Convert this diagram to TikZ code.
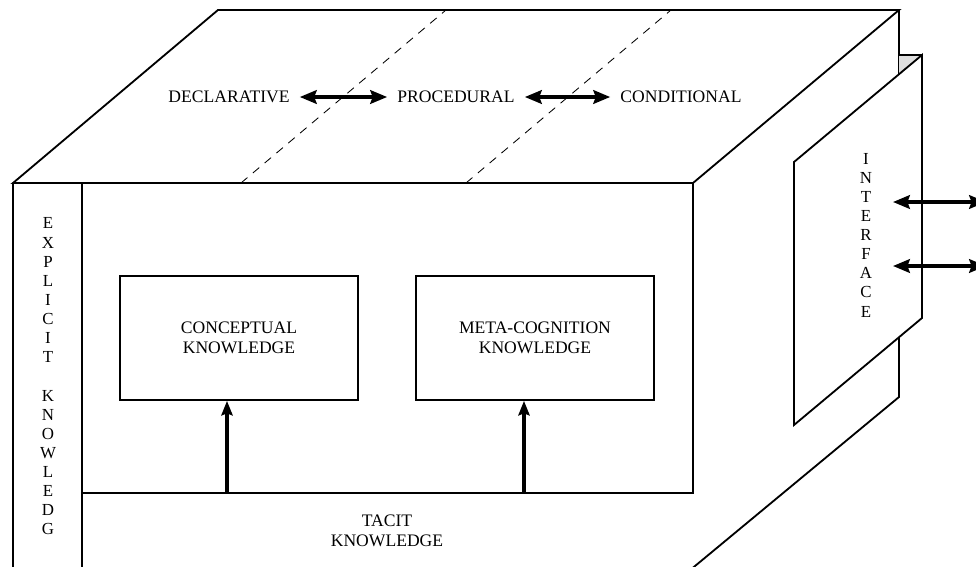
\documentclass[tikz,border=0pt]{standalone}
\usepackage{fontspec}
\setmainfont{Liberation Serif}
\usepackage{tikz}
\usetikzlibrary{arrows.meta,positioning}
\tikzset{
    edge/.style={line width=1.3pt, line join=miter},
    divider/.style={line width=0.6pt, dash pattern=on 6pt off 5pt},
    kbox/.style={
        rectangle,
        draw,
        line width=1.3pt,
        minimum width=5.95cm,
        minimum height=3.1cm,
        align=center,
        font=\fontsize{12.5}{14.2}\selectfont
    },
    label/.style={inner xsep=0.25cm, inner ysep=0pt, font=\fontsize{12.5}{14}\selectfont},
    vletters/.style={align=center, inner sep=0pt, font=\fontsize{12}{13.6}\selectfont},
    biarrow/.style={{Stealth[length=4.2mm,width=3.4mm,inset=0.6mm]}-{Stealth[length=4.2mm,width=3.4mm,inset=0.6mm]}, line width=2.4pt},
    uparrow/.style={-{Stealth[length=3.6mm,width=2.8mm,inset=0.5mm]}, line width=2.2pt}
}

\begin{document}
\begin{tikzpicture}[x=0.025cm, y=-0.025cm]
    \useasboundingbox (0,0) rectangle (976,567);

    % Cubo: faccia superiore e divisioni
    \draw[edge] (13,183) -- (218,10) -- (899,10) -- (693,183) -- cycle;
    \draw[divider] (241,183) -- (446,10);
    \draw[divider] (466,183) -- (671,10);

    % Faccia frontale
    \draw[edge] (13,600) -- (13,183);
    \draw[edge] (82,600) -- (82,183);
    \draw[edge] (82,493) -- (693,493) -- (693,183);

    % Faccia laterale
    \draw[edge] (899,10) -- (899,397) -- (654,600);

    % Pannello interfaccia
    \fill[gray!25] (899,55) -- (922,55) -- (899,74) -- cycle;
    \draw[edge, fill=white] (794,162) -- (922,55) -- (922,318) -- (794,425) -- cycle;
    \draw[edge] (899,55) -- (922,55);

    % Testi della faccia superiore
    \node[label] (decl) at (229,97) {DECLARATIVE};
    \node[label] (proc) at (456,97) {PROCEDURAL};
    \node[label] (cond) at (681,97) {CONDITIONAL};
    \draw[biarrow] (decl) -- (proc);
    \draw[biarrow] (proc) -- (cond);

    % Blocchi di conoscenza
    \node[kbox] (concept) at (239,338) {CONCEPTUAL\\KNOWLEDGE};
    \node[kbox] (meta) at (535,338) {META-COGNITION\\KNOWLEDGE};
    \coordinate (tc) at (227,493);
    \coordinate (tm) at (524,493);
    \draw[uparrow] (tc) -- (tc |- concept.south);
    \draw[uparrow] (tm) -- (tm |- meta.south);
    \node[align=center, font=\fontsize{12.5}{14.5}\selectfont] (tacit) at (387,531) {TACIT\\KNOWLEDGE};

    % Scritte verticali
    \node[vletters] (explicit) at (48,376.5) {E\\X\\P\\L\\I\\C\\I\\T\\[13.6pt]K\\N\\O\\W\\L\\E\\D\\G};
    \node[vletters] (iface) at (866,235) {I\\N\\T\\E\\R\\F\\A\\C\\E};

    % Frecce dell'interfaccia
    \coordinate (ia) at (893,202);
    \coordinate (ib) at (986,202);
    \coordinate (ic) at (893,266);
    \coordinate (id) at (986,266);
    \draw[biarrow] (ia) -- (ib);
    \draw[biarrow] (ic) -- (id);
\end{tikzpicture}
\end{document}
